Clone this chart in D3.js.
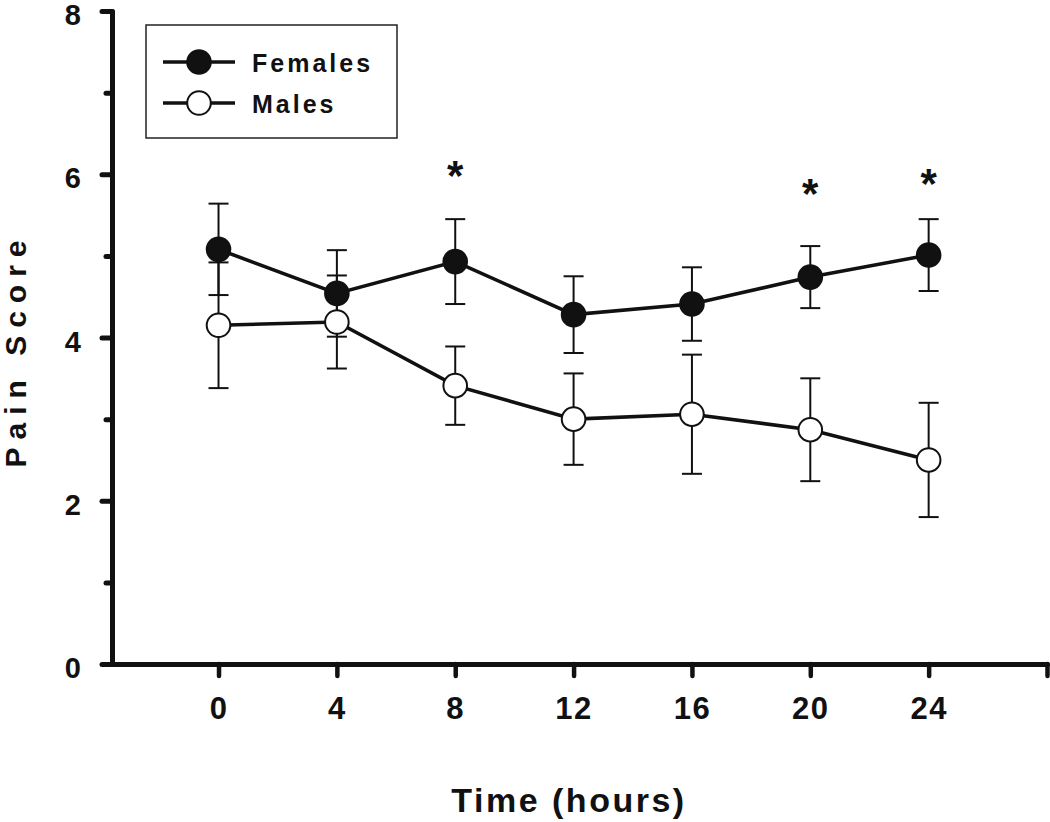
<!DOCTYPE html>
<html>
<head>
<meta charset="utf-8">
<script src="https://cdn.jsdelivr.net/npm/d3@7"></script>
<style>
  html, body { margin: 0; padding: 0; background: #fff; }
  svg { display: block; }
  text { font-family: "Liberation Sans", Arial, Helvetica, sans-serif; font-weight: bold; fill: #111; }
</style>
</head>
<body>
<svg id="chart" width="1050" height="822"></svg>
<script>
// ---- data ----
const times = [0, 4, 8, 12, 16, 20, 24];
const femalesMean = [5.08, 4.54, 4.93, 4.28, 4.41, 4.74, 5.01];
const femalesSE   = [0.56, 0.53, 0.52, 0.47, 0.45, 0.38, 0.44];
const malesMean   = [4.15, 4.19, 3.41, 3.00, 3.06, 2.87, 2.50];
const malesSE     = [0.77, 0.57, 0.48, 0.56, 0.73, 0.63, 0.70];
const sigTimes = [8, 20, 24];
const sigY     = [6.04, 5.82, 5.94];
const xTicks = [0, 4, 8, 12, 16, 20, 24, 28];
const yMajor = [0, 2, 4, 6, 8];
const yMinor = [1, 3, 5, 7];
const seriesNames = ["Females", "Males"];

const svg = d3.select("#chart");
const ink = "#111";
const FONT = '"Liberation Sans", Arial, sans-serif';

const x = d3.scaleLinear().domain([-3.6, 28]).range([112, 1047]);
const y = d3.scaleLinear().domain([0, 8]).range([664, 11]);

// ---- axes ----
const xAxis = svg.append("g").attr("transform", `translate(0,${y(0)})`)
  .call(d3.axisBottom(x).tickValues(xTicks).tickSizeInner(12).tickSizeOuter(0).tickPadding(21)
    .tickFormat(d => d <= 24 ? d : ""));
xAxis.select(".domain").attr("stroke", ink).attr("stroke-width", 5).attr("stroke-linecap", "round");
xAxis.selectAll(".tick line").attr("stroke", ink).attr("stroke-width", 4.5).attr("stroke-linecap", "round");
xAxis.selectAll(".tick text").attr("font-size", 31).attr("letter-spacing", 1.5)
  .attr("font-family", FONT).attr("font-weight", "bold").attr("fill", ink);

const yAxis = svg.append("g").attr("transform", `translate(${x(-3.6)},0)`)
  .call(d3.axisLeft(y).tickValues(yMajor).tickSizeInner(10).tickSizeOuter(0).tickPadding(21));
yAxis.select(".domain").attr("stroke", ink).attr("stroke-width", 5).attr("stroke-linecap", "round");
yAxis.selectAll(".tick line").attr("stroke", ink).attr("stroke-width", 5).attr("stroke-linecap", "round");
yAxis.selectAll(".tick text").attr("font-size", 29).attr("dy", "0.47em")
  .attr("font-family", FONT).attr("font-weight", "bold").attr("fill", ink);

const yAxisMinor = svg.append("g").attr("transform", `translate(${x(-3.6)},0)`)
  .call(d3.axisLeft(y).tickValues(yMinor).tickSizeInner(6).tickSizeOuter(0).tickFormat(""));
yAxisMinor.select(".domain").remove();
yAxisMinor.selectAll(".tick line").attr("stroke", ink).attr("stroke-width", 5).attr("stroke-linecap", "round");

// ---- axis titles ----
svg.append("text").attr("x", 569).attr("y", 812).attr("text-anchor", "middle")
  .attr("font-size", 34).attr("letter-spacing", 2.5).text("Time (hours)");
svg.append("text").attr("transform", "translate(26,350) rotate(-90)").attr("text-anchor", "middle")
  .attr("font-size", 30).attr("letter-spacing", 8).text("Pain Score");

// ---- series ----
const series = [
  { name: seriesNames[1], mean: malesMean, se: malesSE, fill: "#fff" },
  { name: seriesNames[0], mean: femalesMean, se: femalesSE, fill: ink }
];
const capHalf = 10;

series.forEach(s => {
  const g = svg.append("g");
  const pts = times.map((t, i) => ({ t, m: s.mean[i], e: s.se[i] }));
  const eb = g.selectAll(".eb").data(pts).enter().append("g");
  eb.append("line").attr("x1", d => x(d.t)).attr("x2", d => x(d.t))
    .attr("y1", d => y(d.m - d.e)).attr("y2", d => y(d.m + d.e))
    .attr("stroke", ink).attr("stroke-width", 2);
  eb.append("line").attr("x1", d => x(d.t) - capHalf).attr("x2", d => x(d.t) + capHalf)
    .attr("y1", d => y(d.m + d.e)).attr("y2", d => y(d.m + d.e))
    .attr("stroke", ink).attr("stroke-width", 2);
  eb.append("line").attr("x1", d => x(d.t) - capHalf).attr("x2", d => x(d.t) + capHalf)
    .attr("y1", d => y(d.m - d.e)).attr("y2", d => y(d.m - d.e))
    .attr("stroke", ink).attr("stroke-width", 2);
  s.pts = pts;
});

series.forEach(s => {
  svg.append("path").datum(s.pts)
    .attr("d", d3.line().x(d => x(d.t)).y(d => y(d.m)))
    .attr("fill", "none").attr("stroke", ink).attr("stroke-width", 3.6);
});

series.forEach(s => {
  svg.append("g").selectAll("circle").data(s.pts).enter().append("circle")
    .attr("cx", d => x(d.t)).attr("cy", d => y(d.m)).attr("r", 11.8)
    .attr("fill", s.fill).attr("stroke", ink).attr("stroke-width", 2);
});

// ---- significance asterisks ----
svg.append("g").selectAll("text").data(sigTimes.map((t, i) => ({ t, v: sigY[i] }))).enter()
  .append("text").attr("x", d => x(d.t)).attr("y", d => y(d.v) + 19)
  .attr("text-anchor", "middle").attr("font-size", 42).text("*");

// ---- legend ----
const lg = svg.append("g");
lg.append("rect").attr("x", 146).attr("y", 25).attr("width", 251).attr("height", 113)
  .attr("fill", "#fff").attr("stroke", "#222").attr("stroke-width", 1.5);
const legendItems = [
  { name: seriesNames[0], fill: ink, cy: 62 },
  { name: seriesNames[1], fill: "#fff", cy: 103 }
];
legendItems.forEach(it => {
  lg.append("line").attr("x1", 163).attr("x2", 235).attr("y1", it.cy).attr("y2", it.cy)
    .attr("stroke", ink).attr("stroke-width", 3.6);
  lg.append("circle").attr("cx", 199).attr("cy", it.cy).attr("r", 11.8)
    .attr("fill", it.fill).attr("stroke", ink).attr("stroke-width", 2);
  lg.append("text").attr("x", 252).attr("y", it.cy + 10).attr("font-size", 25)
    .attr("letter-spacing", 3).text(it.name);
});
</script>
</body>
</html>
